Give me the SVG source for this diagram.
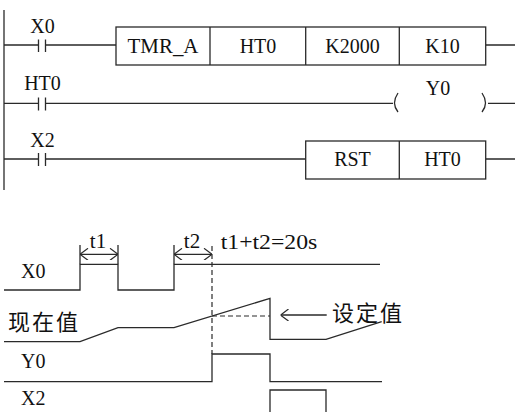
<svg xmlns="http://www.w3.org/2000/svg" width="515" height="412" viewBox="0 0 515 412">
<style>
.ln{stroke:#2a2a2a;stroke-width:1.3;fill:none}
.bx{stroke:#2a2a2a;stroke-width:1.3;fill:#fff}
.dash{stroke:#2a2a2a;stroke-width:1.2;fill:none;stroke-dasharray:5,3}
.t{font-family:'Liberation Serif','Times New Roman',serif;font-size:20px;fill:#111}
.tc{text-anchor:middle}
.cjk{font-family:'Noto Sans CJK SC','Noto Sans',sans-serif;font-size:22px;fill:#111;letter-spacing:2px}
</style>
<defs>
<marker id="oa" viewBox="0 0 10 12" refX="10" refY="6" markerWidth="10" markerHeight="12" markerUnits="userSpaceOnUse" orient="auto-start-reverse">
<path d="M2,0 L10,6 L2,12" fill="none" stroke="#2a2a2a" stroke-width="1.2"/>
</marker>
</defs>
<g id="connectors">
<line class="ln" x1="4" y1="10" x2="4" y2="190"/>
<path class="ln" d="M4,45 H38.5 M45.5,45 H116 M485.7,45 H515"/>
<path class="ln" d="M4,103.3 H38.5 M45.5,103.3 H393 M488,103.3 H515"/>
<path class="ln" d="M4,159 H38.5 M45.5,159 H305.7 M485.7,159 H515"/>
</g>
<g id="contact-X0">
<path class="ln" d="M38.5,39.5 V52 M45.5,39.5 V52"/>
<text class="t tc" x="42.5" y="33.3">X0</text>
</g>
<g id="contact-HT0">
<path class="ln" d="M38.5,97.5 V110.5 M45.5,97.5 V110.5"/>
<text class="t tc" x="42.5" y="90">HT0</text>
</g>
<g id="contact-X2">
<path class="ln" d="M38.5,153 V166 M45.5,153 V166"/>
<text class="t tc" x="42.5" y="147">X2</text>
</g>
<g id="tmr-box">
<rect class="bx" x="116" y="27" width="369.7" height="38"/>
<path class="ln" d="M210,27 V65 M305.7,27 V65 M399.3,27 V65"/>
<text class="t tc" x="163" y="53" textLength="71" lengthAdjust="spacingAndGlyphs">TMR_A</text>
<text class="t tc" x="258" y="53">HT0</text>
<text class="t tc" x="352.5" y="53">K2000</text>
<text class="t tc" x="442.5" y="53">K10</text>
</g>
<g id="coil-Y0">
<path class="ln" d="M398,93 Q391,103.3 398,112 M482,93 Q489,103.3 482,112"/>
<text class="t tc" x="438" y="95">Y0</text>
</g>
<g id="rst-box">
<rect class="bx" x="305.7" y="141" width="180" height="38"/>
<path class="ln" d="M399.3,141 V179"/>
<text class="t tc" x="352.5" y="166">RST</text>
<text class="t tc" x="442.5" y="166">HT0</text>
</g>
<g id="timing">
<text class="t" x="21" y="278">X0</text>
<path class="ln" d="M4,290 H80 V264.3 H118 V290 H174 V264.3 H380"/>
<path class="ln" d="M80,245 V264.3 M118,245 V264.3 M174,245 V264.3"/>
<line class="ln" x1="80" y1="254.3" x2="118" y2="254.3" marker-start="url(#oa)" marker-end="url(#oa)"/>
<line class="ln" x1="174" y1="254.3" x2="212" y2="254.3" marker-start="url(#oa)" marker-end="url(#oa)"/>
<text class="t tc" x="98" y="248" style="font-size:21px">t1</text>
<text class="t tc" x="192" y="248" style="font-size:21px">t2</text>
<text class="t" x="220.7" y="249" style="font-size:21px" textLength="96.6" lengthAdjust="spacingAndGlyphs">t1+t2=20s</text>
<path class="dash" d="M212,246 V354"/>
<path class="dash" d="M212,316 H270"/>
<text class="cjk" x="8" y="329.5">现在值</text>
<path class="ln" d="M4,341.7 H80 L118,327.7 H174 L270,298.3 V339.3 H326 L381.7,321.7"/>
<line class="ln" x1="280.5" y1="315" x2="326.7" y2="315" marker-start="url(#oa)"/>
<text class="cjk" x="332" y="321">设定值</text>
<text class="t" x="21" y="368">Y0</text>
<path class="ln" d="M4,381.7 H212 V354 H270 V381.7 H382"/>
<text class="t" x="21" y="405">X2</text>
<path class="ln" d="M270,414 V390 H326 V414"/>
</g>
</svg>
